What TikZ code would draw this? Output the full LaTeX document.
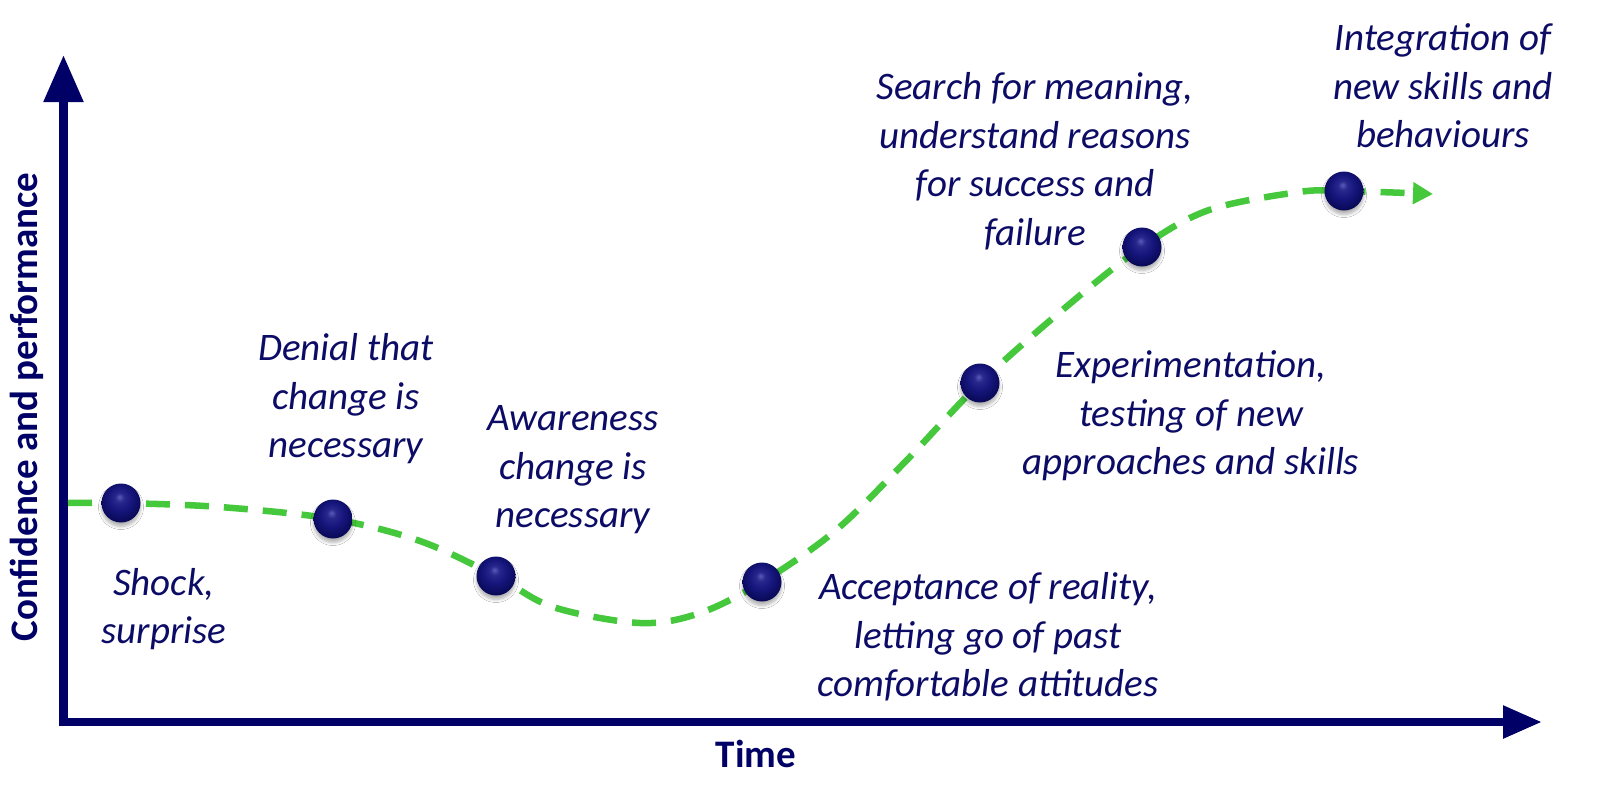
\documentclass[tikz,border=0pt]{standalone}
\usepackage{fontspec}
\setmainfont{Carlito}
\usetikzlibrary{arrows.meta,shadows.blur}
\definecolor{axisnavy}{RGB}{0,0,102}
\definecolor{textnavy}{RGB}{12,12,102}
\definecolor{curvegreen}{RGB}{70,200,60}
\definecolor{ballhi}{RGB}{90,90,185}
\definecolor{ballmid}{RGB}{22,22,125}
\definecolor{balldark}{RGB}{6,6,80}
\pgfdeclareradialshading{navyball}{\pgfpoint{-2bp}{8bp}}{color(0bp)=(ballhi); color(6bp)=(ballmid!75!ballhi); color(15bp)=(ballmid); color(30bp)=(balldark); color(50bp)=(balldark)}
\tikzset{
  axisline/.style={draw=axisnavy, line width=8.5pt, line cap=rect},
  axlbl/.style={text=axisnavy, font=\fontsize{39}{47}\selectfont\bfseries, inner sep=0pt},
  lbl/.style={text=textnavy, align=center, font=\fontsize{39}{48.5}\selectfont\itshape, inner sep=0pt},
  curveline/.style={draw=curvegreen, line width=6.5pt, dash pattern=on 24pt off 15pt},
  ball/.style={circle, minimum size=39pt, inner sep=0pt, shading=navyball,
    blur shadow={shadow xshift=0pt, shadow yshift=-4pt, shadow opacity=30, shadow blur steps=6, shadow blur radius=3pt}}
}
\begin{document}
\begin{tikzpicture}[x=1pt,y=-1pt]
\useasboundingbox[fill=white] (0,0) rectangle (1604,788);
% axes
\coordinate (o) at (63.5,722);
\coordinate (ytip) at (63.5,55);
\coordinate (xtip) at (1542,722);
\draw[axisline, -{Triangle[length=47pt,width=38pt]}] (o) -- (ytip);
\draw[axisline, -{Triangle[length=39pt,width=31pt]}] (o) -- (xtip);
\node[axlbl, rotate=90] (ylab) at (26.5,407) {Confidence and performance};
\node[axlbl] (xlab) at (756,754) {Time};
% curve points
\coordinate (s) at (68,503);
\coordinate (c1) at (121,503);
\coordinate (c2) at (333,519);
\coordinate (c3) at (496,576);
\coordinate (c4) at (762,582);
\coordinate (c5) at (980,383);
\coordinate (c6) at (1142,247);
\coordinate (c7) at (1344,191);
\coordinate (e) at (1433,194);
\draw[curveline, -{Triangle[length=20pt,width=21pt]}] plot[smooth, tension=0.55] coordinates {
  (s) (c1) (220,507) (c2) (420,541) (c3) (553,607) (640,623) (700,613) (c4)
  (835,531) (905,462) (c5) (1066,307) (c6) (1209,210) (1299,192) (c7) (e)};
% dots
\foreach \i in {1,...,7} { \node[ball] (d\i) at (c\i) {}; }
% labels
\node[lbl] (t1) at (164,609) {Shock,\\surprise};
\node[lbl] (t2) at (346,399) {Denial that\\change is\\necessary};
\node[lbl] (t3) at (573,470) {Awareness\\change is\\necessary};
\node[lbl] (t4) at (988,637) {Acceptance of reality,\\letting go of past\\comfortable attitudes};
\node[lbl] (t5) at (1191,416) {Experimentation,\\testing of new\\approaches and skills};
\node[lbl] (t6) at (1035,161) {Search for meaning,\\understand reasons\\for success and\\failure};
\node[lbl] (t7) at (1443,86) {Integration of\\new skills and\\behaviours};
\end{tikzpicture}
\end{document}
